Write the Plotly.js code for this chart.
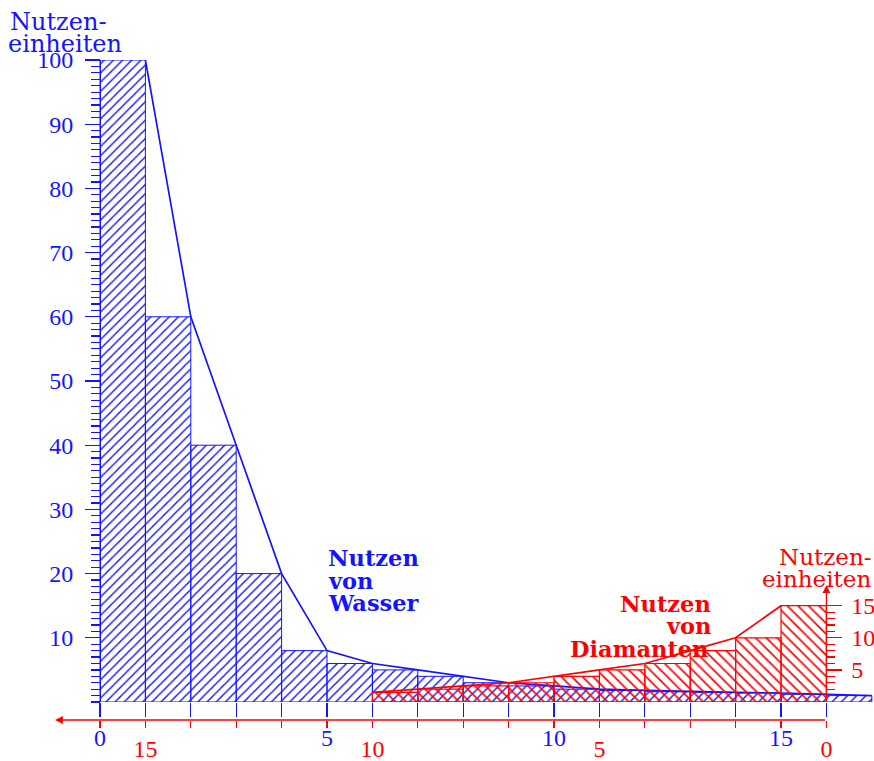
<!DOCTYPE html>
<html>
<head>
<meta charset="utf-8">
<script src="https://cdn.plot.ly/plotly-3.0.1.min.js"></script>
<style>html,body{margin:0;padding:0;background:#fff;}#chart{width:874px;height:761px;}</style>
</head>
<body>
<div id="chart"></div>
<script>
// ---- data ----
// utility of each additional unit of water (blue), unit k spans k..k+1
const waterUtility = [100, 60, 40, 20, 8, 6, 5, 4, 3, 2.5, 2, 1.8, 1.6, 1.5, 1.4, 1.2, 1.0];
// utility of each additional unit of diamonds (red), counted from the right
const diamondUtility = [15, 10, 8, 6, 5, 4, 3, 2.5, 2, 1.5];
// tick values / labels
const waterTickVals = [0,1,2,3,4,5,6,7,8,9,10,11,12,13,14,15,16];
const waterTickText = ['0','','','','','5','','','','','10','','','','','15',''];
const diamondTickVals = [0,1,2,3,4,5,6,7,8,9,10,11,12,13,14,15,16];
const diamondTickText = ['0','','','','','5','','','','','10','','','','','15',''];
const utilTickVals = [10,20,30,40,50,60,70,80,90,100];
const diamondUtilTickVals = [5,10,15];
const diamondUtilMinorVals = [1,2,3,4,5,6,7,8,9,10,11,12,13,14,15];

// ---- derived positions ----
const waterX = waterUtility.map((v,i)=>i+0.5);
const waterLineX = waterUtility.map((v,i)=>i+1);
const diamondX = diamondUtility.map((v,i)=>i+0.5);
const diamondLineX = diamondUtility.map((v,i)=>i+1);

const BLUE = 'rgb(20,20,255)';
const RED = 'rgb(255,0,0)';
const FONT = 'Liberation Serif';
const TFONT = 'DejaVu Serif';

const traces = [
  {type:'bar', x:waterX, y:waterUtility, width:1, xaxis:'x', yaxis:'y',
   marker:{color:'rgba(0,0,0,0)', line:{color:BLUE, width:1},
           pattern:{shape:'/', fgcolor:BLUE, bgcolor:'rgba(0,0,0,0)', size:6.5, solidity:0.22}},
   hoverinfo:'skip'},
  {type:'scatter', mode:'lines', x:waterLineX, y:waterUtility, xaxis:'x', yaxis:'y',
   line:{color:BLUE, width:1.7}, hoverinfo:'skip'},
  {type:'bar', x:diamondX, y:diamondUtility, width:1, xaxis:'x2', yaxis:'y2',
   marker:{color:'rgba(0,0,0,0)', line:{color:RED, width:1.2},
           pattern:{shape:'\\', fgcolor:RED, bgcolor:'rgba(0,0,0,0)', size:7.5, solidity:0.22}},
   hoverinfo:'skip'},
  {type:'scatter', mode:'lines', x:diamondLineX, y:diamondUtility, xaxis:'x2', yaxis:'y2',
   line:{color:RED, width:1.7}, hoverinfo:'skip'}
];

// pixel helpers for text placement (layout only)
const ML=40, MT=60, PW=834, PH=660;
const xp = px => (px-ML)/PW;
const yp = py => (MT+PH-py)/PH;

function txt(s, px, py, anchor, color, bold, size){
  return {text: bold?('<b>'+s+'</b>'):s, xref:'paper', yref:'paper', x:xp(px), y:yp(py),
          xanchor:anchor, yanchor:'middle', showarrow:false, borderpad:0,
          font:{family:TFONT, size:size, color:color}};
}

const annotations = [
  txt('Nutzen-', 9, 22, 'left', BLUE, false, 24),
  txt('einheiten', 7, 44, 'left', BLUE, false, 24),
  txt('Nutzen', 327, 558, 'left', BLUE, true, 22.5),
  txt('von', 327, 581, 'left', BLUE, true, 22.5),
  txt('Wasser', 327, 603, 'left', BLUE, true, 22.5),
  txt('Nutzen', 712, 604, 'right', RED, true, 22.5),
  txt('von', 712, 626, 'right', RED, true, 22.5),
  txt('Diamanten', 709, 649, 'right', RED, true, 22.5),
  txt('Nutzen-', 873, 557, 'right', RED, false, 23),
  txt('einheiten', 872, 579, 'right', RED, false, 23),
  // red horizontal axis with arrow to the left
  {text:'', xref:'x2', yref:'paper', x:16.99, y:0, axref:'x2', ax:0, ayref:'pixel', ay:0,
   showarrow:true, arrowhead:2, arrowsize:1.2, arrowwidth:1.3, arrowcolor:RED},
  // red vertical axis with arrow upward
  {text:'', xref:'x', yref:'y', x:16, y:18.2, axref:'x', ax:16, ayref:'y', ay:0,
   showarrow:true, arrowhead:2, arrowsize:1.2, arrowwidth:1.3, arrowcolor:RED}
];

const layout = {
  width:874, height:761,
  margin:{l:ML, r:0, t:MT, b:761-MT-PH},
  paper_bgcolor:'white', plot_bgcolor:'rgba(0,0,0,0)',
  showlegend:false, barmode:'overlay', bargap:0,
  xaxis:{range:[-1.3216, 17.048], domain:[0,1], anchor:'y',
         tickmode:'array', tickvals:waterTickVals, ticktext:waterTickText,
         ticks:'outside', ticklen:14, tickwidth:1.2, tickcolor:BLUE,
         tickfont:{family:FONT, size:24, color:BLUE},
         showgrid:false, zeroline:false, showline:false},
  xaxis2:{range:[17.3216, -1.048], overlaying:'x', anchor:'free', position:0,
          tickmode:'array', tickvals:diamondTickVals, ticktext:diamondTickText,
          ticks:'outside', ticklen:7, tickwidth:1.2, tickcolor:RED,
          tickfont:{family:FONT, size:24, color:RED},
          showgrid:false, zeroline:false, showline:false},
  yaxis:{range:[0,100], domain:[18/PH, 1], anchor:'free', position:(100-ML)/PW,
         tickmode:'array', tickvals:utilTickVals,
         ticks:'outside', ticklen:15, tickwidth:1.2, tickcolor:BLUE, ticklabelstandoff:7,
         minor:{tickmode:'linear', tick0:0, dtick:1, ticks:'outside', ticklen:9, tickwidth:1.2, tickcolor:BLUE},
         tickfont:{family:FONT, size:24, color:BLUE},
         showline:true, linecolor:BLUE, linewidth:1.4,
         showgrid:false, zeroline:false},
  yaxis2:{range:[0,100], domain:[18/PH, 1], overlaying:'y', anchor:'free', position:(826.4-ML)/PW, side:'right',
          tickmode:'array', tickvals:diamondUtilTickVals,
          ticks:'outside', ticklen:15, tickwidth:1.2, tickcolor:RED, ticklabelstandoff:4,
          minor:{tickmode:'array', tickvals:diamondUtilMinorVals, ticks:'outside', ticklen:8, tickwidth:1.2, tickcolor:RED},
          tickfont:{family:FONT, size:24, color:RED},
          showline:false, showgrid:false, zeroline:false},
  annotations:annotations
};

Plotly.newPlot('chart', traces, layout, {staticPlot:true, displayModeBar:false});
</script>
</body>
</html>
